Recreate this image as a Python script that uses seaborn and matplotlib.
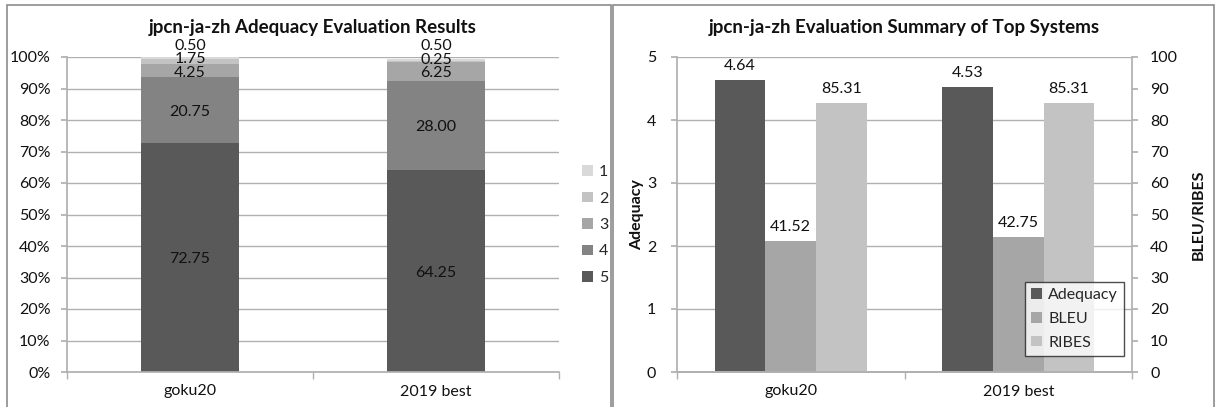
import numpy as np
import pandas as pd
import seaborn as sns
import matplotlib.pyplot as plt
from matplotlib.patches import Rectangle, Patch

sns.set_theme(style="white")
plt.rcParams['font.family'] = ['Lato', 'DejaVu Sans']

# ---- data ----
systems = ["goku20", "2019 best"]
grades = ["1", "2", "3", "4", "5"]
grade5 = [72.75, 64.25]
grade4 = [20.75, 28.00]
grade3 = [4.25, 6.25]
grade2 = [1.75, 0.25]
grade1 = [0.50, 0.50]

metrics = ["Adequacy", "BLEU", "RIBES"]
adequacy = [4.64, 4.53]
bleu = [41.52, 42.75]
ribes = [85.31, 85.31]

grade_colors = {"1": "#d9d9d9", "2": "#c3c3c3", "3": "#a6a6a6", "4": "#838383", "5": "#595959"}
metric_colors = {"Adequacy": "#595959", "BLEU": "#a6a6a6", "RIBES": "#c3c3c3"}
grid_c = "#b0b0b0"
txt_c = "#111111"
fs = 11.5

W, H = 1215, 407
fig = plt.figure(figsize=(W / 100, H / 100), dpi=100)
fig.patch.set_facecolor("white")


def px_axes(x0, x1, y0, y1):
    return fig.add_axes([x0 / W, (H - y1) / H, (x1 - x0) / W, (y1 - y0) / H])


# panel frames
fig.add_artist(Rectangle((7 / W, -0.02), (604 / W), (H - 5) / H + 0.02, transform=fig.transFigure,
                         fill=False, ec="#8c8c8c", lw=1.2))
fig.add_artist(Rectangle((613 / W, -0.02), (601 / W), (H - 5) / H + 0.02, transform=fig.transFigure,
                         fill=False, ec="#8c8c8c", lw=1.2))

# ---- left: stacked percentage bars ----
ax1 = px_axes(67, 559, 57, 372)
layers = [grade5, grade4, grade3, grade2, grade1]  # bottom -> top
layer_names = ["5", "4", "3", "2", "1"]
tops = np.cumsum(np.array(layers), axis=0)
# draw from the tallest cumulative total down so lower layers cover upper ones
for i in range(len(layers) - 1, -1, -1):
    d = pd.DataFrame({"system": systems, "top": tops[i]})
    sns.barplot(data=d, x="system", y="top", color=grade_colors[layer_names[i]],
                width=0.395, saturation=1, linewidth=0, ax=ax1, zorder=2)

# segment labels, nudged up when they would overlap
for j, sysname in enumerate(systems):
    prev = -100
    for i in range(len(layers)):
        bottom = tops[i - 1][j] if i > 0 else 0
        yc = bottom + layers[i][j] / 2
        if yc < prev + 4.3:
            yc = prev + 4.3
        prev = yc
        ax1.text(j, yc - 0.6, f"{layers[i][j]:.2f}", ha="center", va="center",
                 fontsize=fs, color=txt_c, zorder=5)

ax1.set_ylim(0, 100)
ax1.set_xlim(-0.5, 1.5)
ax1.set_yticks(np.arange(0, 101, 10))
ax1.set_yticklabels([f"{v}%" for v in range(0, 101, 10)])
ax1.yaxis.grid(True, color=grid_c, lw=1)
ax1.set_axisbelow(True)
ax1.set_xlabel("")
ax1.set_ylabel("")
for s in ["top", "right"]:
    ax1.spines[s].set_visible(False)
for s in ["left", "bottom"]:
    ax1.spines[s].set_color(grid_c)
ax1.tick_params(axis="y", length=4, color=grid_c, labelsize=fs, labelcolor=txt_c, pad=8, left=True)
ax1.tick_params(axis="x", length=0, labelsize=fs, labelcolor=txt_c, pad=9)
ax1.set_xticks([-0.5, 0.5, 1.5], minor=True)
ax1.tick_params(axis="x", which="minor", length=5, color=grid_c, bottom=True)
fig.text(313 / W, 1 - 28 / H, "jpcn-ja-zh Adequacy Evaluation Results", ha="center", va="center",
         fontsize=13.5, fontweight="bold", color=txt_c)

handles = [Patch(facecolor=grade_colors[g], edgecolor="none") for g in grades]
ax1.legend(handles, grades, loc="center left", bbox_to_anchor=(568 / W, 1 - 225 / H),
           bbox_transform=fig.transFigure, frameon=False, fontsize=fs, handlelength=0.65,
           handleheight=0.65, handletextpad=0.4, labelspacing=0.78)

# ---- right: adequacy + BLEU/RIBES on twin axes ----
ax2 = px_axes(677, 1132, 57, 372)
ax3 = ax2.twinx()
long = pd.DataFrame({
    "system": systems * 3,
    "metric": ["Adequacy"] * 2 + ["BLEU"] * 2 + ["RIBES"] * 2,
    "value": adequacy + bleu + ribes,
})
left_part = long.assign(value=np.where(long["metric"] == "Adequacy", long["value"], np.nan))
right_part = long.assign(value=np.where(long["metric"] != "Adequacy", long["value"], np.nan))
sns.barplot(data=left_part, x="system", y="value", hue="metric", hue_order=metrics,
            palette=metric_colors, width=0.67, gap=0, saturation=1, linewidth=0,
            ax=ax2, legend=False, zorder=2)
sns.barplot(data=right_part, x="system", y="value", hue="metric", hue_order=metrics,
            palette=metric_colors, width=0.67, gap=0, saturation=1, linewidth=0,
            ax=ax3, legend=False, zorder=2)
for c in ax2.containers:
    ax2.bar_label(c, fmt="%.2f", padding=5, fontsize=fs, color=txt_c)
for c in ax3.containers:
    ax3.bar_label(c, fmt="%.2f", padding=5, fontsize=fs, color=txt_c)

ax2.set_ylim(0, 5)
ax3.set_ylim(0, 100)
ax2.set_xlim(-0.5, 1.5)
ax2.set_yticks(range(6))
ax3.set_yticks(range(0, 101, 10))
ax2.yaxis.grid(True, color=grid_c, lw=1)
ax2.set_axisbelow(True)
ax2.set_xlabel("")
ax3.set_xlabel("")
ax2.set_ylabel("Adequacy", fontsize=fs, fontweight="bold", color=txt_c, labelpad=2)
ax3.set_ylabel("BLEU/RIBES", fontsize=fs, fontweight="bold", color=txt_c, labelpad=10)
for a in (ax2, ax3):
    a.spines["top"].set_visible(False)
    for s in ["left", "right", "bottom"]:
        a.spines[s].set_color(grid_c)
ax2.spines["right"].set_visible(False)
ax3.spines["left"].set_visible(False)
ax2.tick_params(axis="y", length=4, color=grid_c, labelsize=fs, labelcolor=txt_c, pad=11, left=True)
ax3.tick_params(axis="y", length=4, color=grid_c, labelsize=fs, labelcolor=txt_c, pad=9, right=True)
ax2.tick_params(axis="x", length=0, labelsize=fs, labelcolor=txt_c, pad=9)
ax2.set_xticks([-0.5, 0.5, 1.5], minor=True)
ax2.tick_params(axis="x", which="minor", length=5, color=grid_c, bottom=True)
fig.text(904 / W, 1 - 28 / H, "jpcn-ja-zh Evaluation Summary of Top Systems", ha="center", va="center",
         fontsize=13.5, fontweight="bold", color=txt_c)

mh = [Patch(facecolor=metric_colors[m], edgecolor="none") for m in metrics]
leg = ax3.legend(mh, metrics, loc="upper left", bbox_to_anchor=(1025 / W, 1 - 282 / H),
                 bbox_transform=fig.transFigure, frameon=True, fancybox=False, fontsize=fs,
                 handlelength=0.65, handleheight=0.65, handletextpad=0.4, labelspacing=0.6,
                 borderpad=0.4, borderaxespad=0)
leg.get_frame().set_edgecolor("#222222")
leg.get_frame().set_linewidth(1)

fig.savefig("out.png", dpi=100, facecolor="white")
